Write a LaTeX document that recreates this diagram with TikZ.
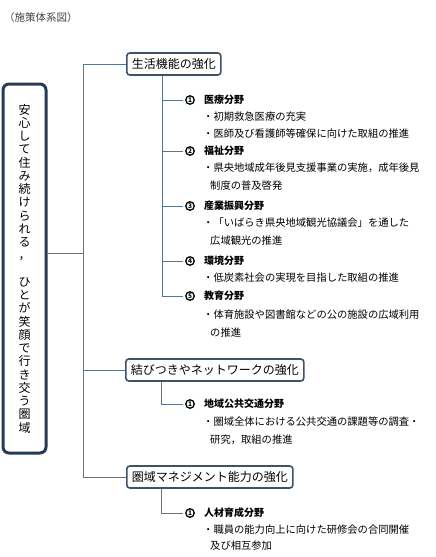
\documentclass[tikz,border=0pt]{standalone}
\usepackage{fontspec}
\setmainfont{Noto Sans CJK JP}
\usetikzlibrary{positioning}
\definecolor{mNavy}{RGB}{38,58,84}
\definecolor{mFrame}{RGB}{62,82,104}
\definecolor{mLine}{RGB}{92,116,140}

\tikzset{
  root/.style={draw=mNavy, line width=3pt, rounded corners=6pt, minimum width=43pt,
    minimum height=369pt, inner sep=0pt, align=center, font=\fontsize{12}{13.25}\selectfont},
  theme/.style={draw=mFrame, line width=1.6pt, rounded corners=3pt, fill=white, anchor=west,
    minimum height=22pt, inner xsep=5pt, inner ysep=0pt, font=\fontsize{12}{14}\selectfont},
  fieldno/.style={circle, draw, line width=1.3pt, inner sep=0pt, minimum size=8.5pt,
    font=\bfseries\fontsize{6.5}{7}\selectfont},
  field/.style={right=9pt of #1, inner sep=0pt, font=\bfseries\fontsize{10}{12}\selectfont},
  item/.style={anchor=west, inner sep=0pt, font=\fontsize{10.3}{12}\selectfont},
  branch/.style={mLine, line width=0.8pt},
}

\begin{document}
\begin{tikzpicture}[x=1pt, y=-1pt]
    \useasboundingbox (0,0) rectangle (436,557);
    \node[anchor=west, inner sep=0pt, black!75, font=\fontsize{10.5}{12}\selectfont] (title) at (4,18) {（施策体系図）};

    % root
    \node[root] (root) at (24.5,268.5) {安\\心\\し\\て\\住\\み\\続\\け\\ら\\れ\\る\\，\\\strut\\ひ\\と\\が\\笑\\顔\\で\\行\\き\\交\\う\\圏\\域};

    % themes
    \node[theme] (b1) at (126,64) {生活機能の強化};
    \node[theme] (b2) at (125,370) {結びつきやネットワークの強化};
    \node[theme] (b3) at (126,477) {圏域マネジメント能力の強化};

    % trunk
    \coordinate (trunk) at (83,253);
    \draw[branch] (root.east |- trunk) -- (trunk);
    \draw[branch] (trunk |- b1.west) -- (trunk |- b3.west);
    \foreach \b in {b1,b2,b3}
      \draw[branch] (trunk |- \b.west) -- (\b.west);

    % theme 1
    \coordinate (s1) at (162,0);
    \node[fieldno] (n11) at (190,100) {1};
    \node[field=n11] (h11) {医療分野};
    \node[item] (i11a) at (203,117) {・初期救急医療の充実};
    \node[item] (i11b) at (203,134) {・医師及び看護師等確保に向けた取組の推進};
    \node[fieldno] (n12) at (190,151) {2};
    \node[field=n12] (h12) {福祉分野};
    \node[item] (i12a) at (203,168) {・県央地域成年後見支援事業の実施，成年後見};
    \node[item] (i12b) at (210,186) {制度の普及啓発};
    \node[fieldno] (n13) at (190,206) {3};
    \node[field=n13] (h13) {産業振興分野};
    \node[item] (i13a) at (203,223) {・「いばらき県央地域観光協議会」を通した};
    \node[item] (i13b) at (210,241) {広域観光の推進};
    \node[fieldno] (n14) at (190,261) {4};
    \node[field=n14] (h14) {環境分野};
    \node[item] (i14a) at (203,278) {・低炭素社会の実現を目指した取組の推進};
    \node[fieldno] (n15) at (190,296) {5};
    \node[field=n15] (h15) {教育分野};
    \node[item] (i15a) at (203,315) {・体育施設や図書館などの公の施設の広域利用};
    \node[item] (i15b) at (210,333) {の推進};
    \draw[branch] (b1.south -| s1) -- (s1 |- n15);
    \foreach \n in {n11,n12,n13,n14,n15}
      \draw[branch] (s1 |- \n) -- ([xshift=-2pt]\n.west);

    % theme 2
    \coordinate (s2) at (161,0);
    \node[fieldno] (n21) at (190,404) {1};
    \node[field=n21] (h21) {地域公共交通分野};
    \node[item] (i21a) at (203,422) {・圏域全体における公共交通の課題等の調査・};
    \node[item] (i21b) at (210,440) {研究，取組の推進};
    \draw[branch] (b2.south -| s2) -- (s2 |- n21) -- ([xshift=-2pt]n21.west);

    % theme 3
    \coordinate (s3) at (161,0);
    \node[fieldno] (n31) at (190,513) {1};
    \node[field=n31] (h31) {人材育成分野};
    \node[item] (i31a) at (203,530) {・職員の能力向上に向けた研修会の合同開催};
    \node[item] (i31b) at (210,546) {及び相互参加};
    \draw[branch] (b3.south -| s3) -- (s3 |- n31) -- ([xshift=-2pt]n31.west);
  \end{tikzpicture}
\end{document}
